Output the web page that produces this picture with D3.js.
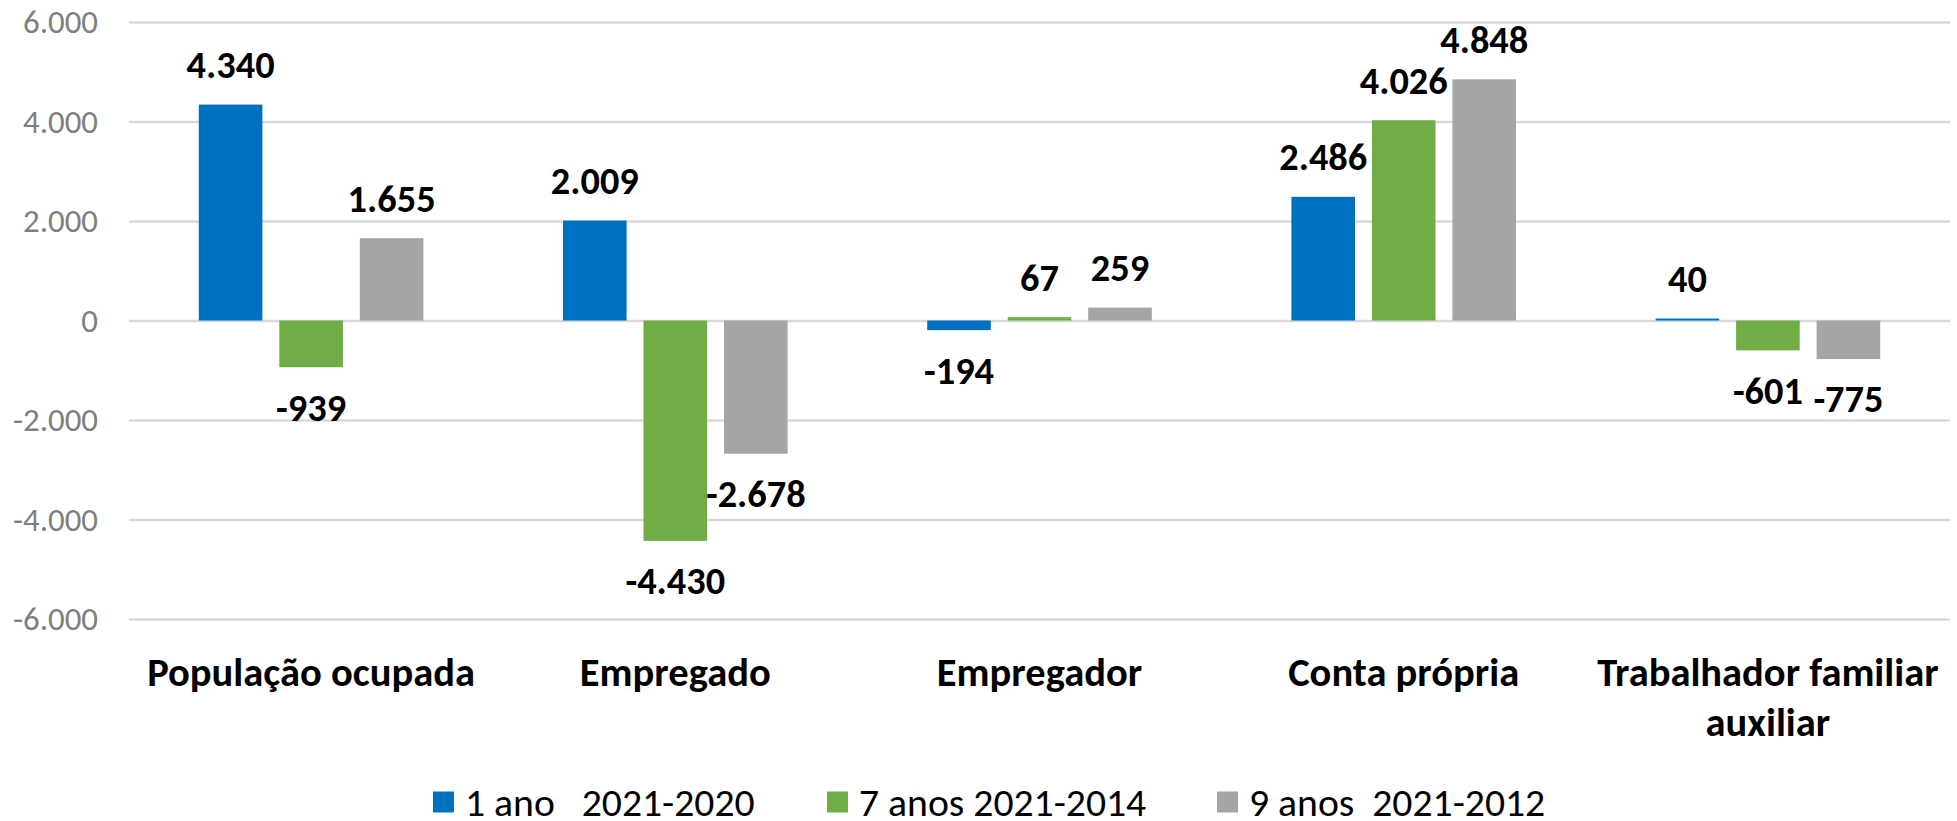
<!DOCTYPE html>
<html>
<head>
<meta charset="utf-8">
<script src="https://cdn.jsdelivr.net/npm/d3@7"></script>
<style>
  body { margin: 0; background: #fff; }
  svg { display: block; font-family: Carlito, Calibri, Lato, sans-serif; }
</style>
</head>
<body>
<svg id="chart"></svg>
<script>
// categorias (eixo x)
var categorias = [
    ["População ocupada"],
    ["Empregado"],
    ["Empregador"],
    ["Conta própria"],
    ["Trabalhador familiar", "auxiliar"]
];

// series
var series = ["1 ano   2021-2020", "7 anos 2021-2014", "9 anos  2021-2012"];
var cores = ["#0070C0", "#70AD47", "#A5A5A5"];

var umAno   = [4340, 2009, -194, 2486, 40];
var seteAnos = [-939, -4430, 67, 4026, -601];
var noveAnos = [1655, -2678, 259, 4848, -775];

var yTicks = [-6000, -4000, -2000, 0, 2000, 4000, 6000];

/////////////////////////////////////////////////////////
var svgWidth = 1957, svgHeight = 821;
// "top" e reservado no browser (window.top), por isso plotTop
var plotLeft = 129, plotRight = 1950, plotTop = 22, plotBottom = 619;

var svg = d3.select('#chart')
    .attr("width", svgWidth)
    .attr("height", svgHeight);

// sem Calibri: acha o tamanho da fonte que da a largura do original
function fitSize(txt, weight, largura) {
    var t = svg.append("text")
        .attr("font-size", 100)
        .attr("font-weight", weight)
        .text(txt);
    var w = t.node().getComputedTextLength();
    t.remove();
    return 100 * largura / w;
}
var tickSize = fitSize("-2.000", "normal", 85);
var valSize = fitSize("4.340", "bold", 88);
var catSize = fitSize("População ocupada", "bold", 328);
var legSize = fitSize("2021-2020", "normal", 173);

var pt = d3.formatLocale({decimal: ",", thousands: ".", grouping: [3], currency: ["R$", ""], minus: "-"});
var fmt = pt.format(",d");

var nomes = categorias.map(function(c){ return c.join(" "); });
var valores = [umAno, seteAnos, noveAnos];

var x0 = d3.scaleBand().domain(nomes).range([plotLeft, plotRight]);
var x1 = d3.scaleBand().domain(d3.range(series.length))
    .range([0, x0.bandwidth()])
    .paddingInner(0.21)
    .paddingOuter(0.867);
var y = d3.scaleLinear().domain([-6000, 6000]).range([plotBottom, plotTop]);

// grade + rotulos do eixo y
var eixo = svg.append("g")
    .attr("transform", "translate(" + plotLeft + ",0)")
    .call(d3.axisLeft(y).tickValues(yTicks).tickFormat(fmt)
        .tickSize(-(plotRight - plotLeft)).tickPadding(31));
eixo.select(".domain").remove();
eixo.selectAll("line").attr("stroke", "#d9d9d9").attr("stroke-width", 2.5);
eixo.selectAll("text")
    .attr("fill", "#7f7f7f")
    .attr("font-size", tickSize)
    .attr("font-family", "Carlito, Calibri, Lato, sans-serif");

// barras
var dados = [];
nomes.forEach(function(n, i){
    valores.forEach(function(v, s){
        dados.push({cat: n, s: s, v: v[i]});
    });
});

svg.selectAll("rect.barra").data(dados)
    .enter()
    .append("rect")
    .attr("class", "barra")
    .attr("x", function(d){ return x0(d.cat) + x1(d.s); })
    .attr("width", x1.bandwidth())
    .attr("y", function(d){ return y(Math.max(0, d.v)); })
    .attr("height", function(d){ return Math.abs(y(d.v) - y(0)); })
    .attr("fill", function(d){ return cores[d.s]; });

// rotulos de valor
svg.selectAll("text.valor").data(dados)
    .enter()
    .append("text")
    .attr("class", "valor")
    .attr("x", function(d){ return x0(d.cat) + x1(d.s) + x1.bandwidth() / 2; })
    .attr("y", function(d){ return d.v >= 0 ? y(d.v) - 40 : y(d.v) + 40; })
    .attr("dy", "0.35em")
    .attr("text-anchor", "middle")
    .attr("font-size", valSize)
    .attr("font-weight", "bold")
    .attr("fill", "#000")
    .text(function(d){ return fmt(d.v); });

// categorias
var cat = svg.selectAll("text.cat").data(categorias)
    .enter()
    .append("text")
    .attr("class", "cat")
    .attr("x", function(d, i){ return x0(nomes[i]) + x0.bandwidth() / 2; })
    .attr("y", 672)
    .attr("text-anchor", "middle")
    .attr("font-size", catSize)
    .attr("font-weight", "bold")
    .attr("fill", "#000");
cat.selectAll("tspan").data(function(d){ return d; })
    .enter()
    .append("tspan")
    .attr("x", function(){ return d3.select(this.parentNode).attr("x"); })
    .attr("dy", function(d, i){ return i == 0 ? "0.35em" : 50; })
    .text(function(d){ return d; });

// legenda
var legX = [433, 827, 1217];
var leg = svg.selectAll("g.leg").data(series)
    .enter()
    .append("g")
    .attr("class", "leg")
    .attr("transform", function(d, i){ return "translate(" + legX[i] + ",802)"; });
leg.append("rect")
    .attr("x", 0).attr("y", -10.5)
    .attr("width", 21).attr("height", 21)
    .attr("fill", function(d, i){ return cores[i]; });
leg.append("text")
    .attr("x", 32)
    .attr("dy", "0.35em")
    .attr("font-size", legSize)
    .attr("fill", "#000")
    .style("white-space", "pre")
    .text(function(d){ return d; });
</script>
</body>
</html>
